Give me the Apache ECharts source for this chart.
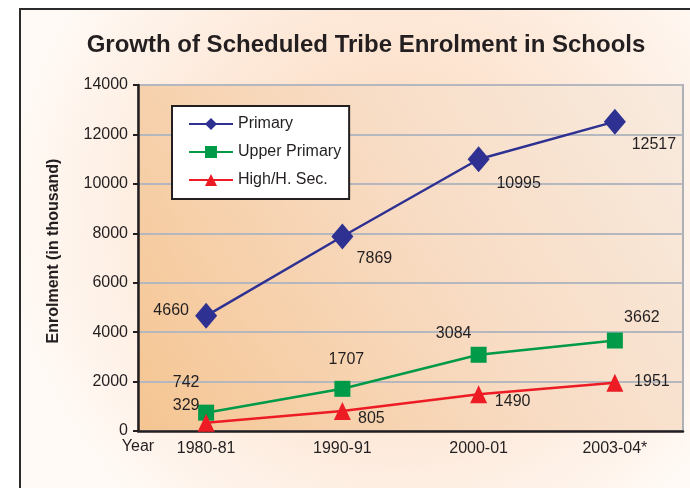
<!DOCTYPE html>
<html>
<head>
<meta charset="utf-8">
<script src="https://cdn.jsdelivr.net/npm/echarts@6/dist/echarts.min.js"></script>
<style>
  html, body { margin: 0; padding: 0; background: #fff; }
  #main { width: 690px; height: 488px; }
</style>
</head>
<body>
<div id="main"></div>
<script>
const years = ['1980-81', '1990-91', '2000-01', '2003-04*']
const primary = [4660, 7869, 10995, 12517]
const upperPrimary = [742, 1707, 3084, 3662]
const highSec = [329, 805, 1490, 1951]

// where each value label sits relative to its marker
const primaryLabelOffsets = [[-35, -5], [32, 22], [40, 24], [39, 23]]
const upperLabelOffsets = [[-20, -30], [4, -29], [-25, -21], [27, -23]]
const highLabelOffsets = [[-20, -17], [29, 7], [34, 7], [37, -1]]

const textColor = '#231f20'
const font = 'Liberation Sans, Arial, Helvetica, sans-serif'

const withLabels = (values, offsets) => values.map((v, i) => ({
  value: v,
  label: { offset: offsets[i] }
}))

const myChart = echarts.init(document.getElementById('main'))

myChart.setOption({
  animation: false,
  textStyle: { fontFamily: font },
  graphic: [{
    type: 'rect',
    z: -10,
    shape: { x: 20, y: 9, width: 720, height: 520 },
    style: {
      stroke: '#2b2b2b',
      lineWidth: 2,
      fill: {
        type: 'radial', x: 0.52, y: 0.4, r: 0.75,
        colorStops: [
          { offset: 0, color: '#fbd8b9' },
          { offset: 0.5, color: '#fde7d6' },
          { offset: 1, color: '#fffaf6' }
        ]
      }
    }
  }],
  title: {
    text: 'Growth of Scheduled Tribe Enrolment in Schools',
    left: 361,
    textAlign: 'center',
    top: 28,
    textStyle: { fontSize: 24, fontWeight: 'bold', color: textColor, fontFamily: font }
  },
  legend: {
    orient: 'vertical',
    left: 172,
    top: 106,
    padding: [10, 8, 11, 16],
    itemGap: 12,
    itemWidth: 44,
    itemHeight: 15,
    backgroundColor: '#fff',
    borderColor: textColor,
    borderWidth: 2,
    borderRadius: 0,
    textStyle: { fontSize: 16, color: textColor, fontFamily: font }
  },
  grid: {
    left: 138,
    right: 7,
    top: 85,
    bottom: 57,
    show: true,
    borderColor: '#aeb0b8',
    borderWidth: 2,
    backgroundColor: {
      type: 'linear', x: 0, y: 1, x2: 1, y2: 0,
      colorStops: [
        { offset: 0, color: '#f5c592' },
        { offset: 0.55, color: '#f8dcc4' },
        { offset: 1, color: '#f8ebdf' }
      ]
    }
  },
  xAxis: {
    type: 'category',
    data: years,
    name: 'Year',
    nameLocation: 'start',
    nameGap: 0,
    nameTextStyle: {
      fontSize: 16, color: textColor, align: 'center', verticalAlign: 'top', padding: [8, 0, 0, 0]
    },
    axisLine: { lineStyle: { color: textColor, width: 2.5 } },
    axisTick: { length: 5, lineStyle: { color: textColor, width: 2 } },
    axisLabel: { fontSize: 16, color: textColor, margin: 10 }
  },
  yAxis: {
    type: 'value',
    min: 0,
    max: 14000,
    interval: 2000,
    name: 'Enrolment (in thousand)',
    nameLocation: 'middle',
    nameGap: 76,
    nameTextStyle: { fontSize: 16, fontWeight: 'bold', color: textColor, padding: [0, 0, 0, 14] },
    axisLine: { show: true, lineStyle: { color: textColor, width: 2.5 } },
    axisTick: { show: true, length: 5, lineStyle: { color: textColor, width: 2 } },
    axisLabel: { fontSize: 16, color: textColor, margin: 10, formatter: (v) => String(v) },
    splitLine: { lineStyle: { color: '#b5b7bf', width: 2 } }
  },
  series: [{
    name: 'Primary',
    type: 'line',
    data: withLabels(primary, primaryLabelOffsets),
    symbol: 'diamond',
    symbolSize: [22, 26],
    color: '#2e3192',
    lineStyle: { width: 2.5 },
    label: { show: true, position: 'inside', fontSize: 16, color: textColor }
  }, {
    name: 'Upper Primary',
    type: 'line',
    data: withLabels(upperPrimary, upperLabelOffsets),
    symbol: 'rect',
    symbolSize: 16,
    color: '#009a48',
    lineStyle: { width: 2.5 },
    label: { show: true, position: 'inside', fontSize: 16, color: textColor }
  }, {
    name: 'High/H. Sec.',
    type: 'line',
    data: withLabels(highSec, highLabelOffsets),
    symbol: 'triangle',
    symbolSize: [17, 18],
    color: '#ed1c24',
    lineStyle: { width: 2.5 },
    label: { show: true, position: 'inside', fontSize: 16, color: textColor }
  }]
})
</script>
</body>
</html>
